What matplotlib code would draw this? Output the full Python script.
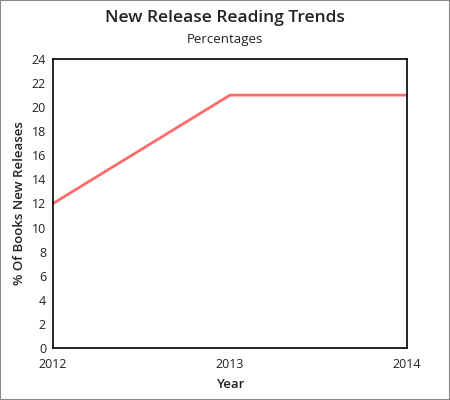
import matplotlib
matplotlib.use("Agg")
import matplotlib.pyplot as plt
from matplotlib.patches import Rectangle

# data
years = [2012, 2013, 2014]
pct = [12, 21, 21]
yticks = list(range(0, 25, 2))

plt.rcParams['font.family'] = ['Open Sans', 'DejaVu Sans']

fig = plt.figure(figsize=(4.5, 4.0), dpi=100)
ax = fig.add_axes([53/450, 52/400, 354/450, 289/400])

ax.plot(years, pct, color='#ff6a6a', linewidth=2)

ax.set_xlim(2012, 2014)
ax.set_ylim(0, 24)
ax.set_xticks(years)
ax.set_xticklabels([str(y) for y in years], fontsize=9, color='#222222')
ax.set_yticks(yticks)
ax.set_yticklabels([str(t) for t in yticks], fontsize=9, color='#222222')
ax.tick_params(axis='y', length=0, pad=5)
ax.tick_params(axis='x', length=0, pad=7)
for s in ax.spines.values():
    s.set_linewidth(1.2)
    s.set_color('black')

ax.set_xlabel('Year', fontsize=9.5, fontweight='semibold', color='#222222', labelpad=5)
ax.set_ylabel('% Of Books New Releases', fontsize=9.5, fontweight='semibold', color='#222222', labelpad=4)

fig.text(0.5, 1 - 18/400, 'New Release Reading Trends', ha='center', va='center',
         fontsize=12.5, fontweight='semibold', color='#222222')
fig.text(0.5, 1 - 40/400, 'Percentages', ha='center', va='center',
         fontsize=9.5, color='#222222')

# outer border
fig.patches.append(Rectangle((0, 0), 1, 1, transform=fig.transFigure,
                             fill=False, edgecolor='#888888', linewidth=1.5))

fig.savefig('out.png', dpi=100)
